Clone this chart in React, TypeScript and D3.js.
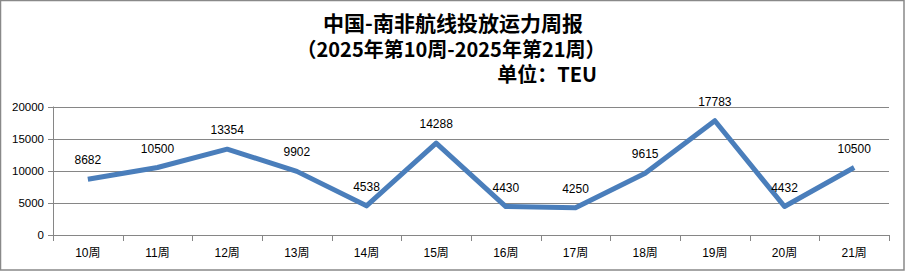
import React from "react";
import * as d3 from "d3";

const categories = ["10周", "11周", "12周", "13周", "14周", "15周", "16周", "17周", "18周", "19周", "20周", "21周"];
const values = [8682, 10500, 13354, 9902, 4538, 14288, 4430, 4250, 9615, 17783, 4432, 10500];
const yTicks = [0, 5000, 10000, 15000, 20000];
const titleLines = ["中国-南非航线投放运力周报", "（2025年第10周-2025年第21周）"];
const unitLabel = "单位：TEU";

const W = 906;
const H = 272;
const left = 53;
const right = 889;
const top = 106.5;
const bottom = 235;

export default function App() {
  const x = d3.scaleBand<string>().domain(categories).range([left, right]).paddingInner(0).paddingOuter(0);
  const y = d3.scaleLinear().domain([0, 20000]).range([bottom, top]);
  const line = d3
    .line<number>()
    .x((_, i) => (x(categories[i]) as number) + x.bandwidth() / 2)
    .y((d) => y(d));
  const boundaries = categories.map((c) => x(c) as number).concat([right]);
  const titleFont = '"Liberation Sans Narrow", "Noto Sans CJK SC", sans-serif';
  const labelFont = '"Liberation Sans", "Noto Sans CJK SC", sans-serif';
  return (
    <svg width={W} height={H} style={{ position: "absolute", left: 0, top: 0, display: "block" }}>
      <rect x={0} y={0} width={W} height={H} fill="#fff" />
      <rect x={0.5} y={0.5} width={903.5} height={269.5} fill="none" stroke="#898989" strokeWidth={1.5} />
      <text x={453} y={31} textAnchor="middle" fontFamily={titleFont} fontWeight="bold" fontSize={21} fill="#000">
        {titleLines[0]}
      </text>
      <text x={451} y={57} textAnchor="middle" fontFamily={titleFont} fontWeight="bold" fontSize={20} fill="#000">
        {titleLines[1]}
      </text>
      <text x={597} y={82} textAnchor="end" fontFamily={titleFont} fontWeight="bold" fontSize={20} fill="#000">
        {unitLabel}
      </text>
      {yTicks.map((t) => (
        <g key={t}>
          <line x1={left - 5} x2={right} y1={Math.round(y(t)) + 0.5} y2={Math.round(y(t)) + 0.5} stroke="#868686" strokeWidth={1} />
          <text x={44} y={y(t) + 4} textAnchor="end" fontFamily={labelFont} fontSize={11.5} fill="#000">
            {t}
          </text>
        </g>
      ))}
      <line x1={left + 0.5} x2={left + 0.5} y1={top} y2={bottom + 5} stroke="#868686" />
      {boundaries.map((b, i) => (
        <line key={i} x1={Math.round(b) + 0.5} x2={Math.round(b) + 0.5} y1={bottom} y2={bottom + 6} stroke="#868686" />
      ))}
      {categories.map((c) => (
        <text key={c} x={(x(c) as number) + x.bandwidth() / 2} y={257} textAnchor="middle" fontFamily={labelFont} fontSize={12} fill="#000">
          {c}
        </text>
      ))}
      <path d={line(values) || ""} fill="none" stroke="#4A7EBB" strokeWidth={5} strokeLinejoin="round" />
      {values.map((v, i) => (
        <text
          key={i}
          x={(x(categories[i]) as number) + x.bandwidth() / 2}
          y={y(v) - 15}
          textAnchor="middle"
          fontFamily={labelFont}
          fontSize={12}
          fill="#000"
        >
          {v}
        </text>
      ))}
    </svg>
  );
}
